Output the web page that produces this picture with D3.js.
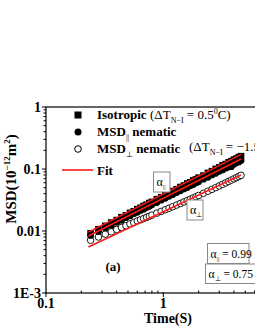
<!DOCTYPE html>
<html lang="en">
<head>
<meta charset="UTF-8">
<title>MSD</title>
<style>
  body { margin: 0; overflow: hidden; background: #fff; }
  svg { display: block; }
  text { font-family: "Liberation Serif", "Times New Roman", serif; }
</style>
</head>
<body>
<svg width="255" height="330"></svg>
<script src="https://d3js.org/d3.v7.min.js"></script>
<script>
// lag times (s)
var times = [0.24,0.28,0.32,0.36,0.40,0.44,0.48,0.52,0.56,0.60,0.64,0.68,0.72,0.76,0.80,0.88,0.96,1.04,1.12,1.2,1.3,1.4,1.5,1.6,1.7,1.8,1.9,2.0,2.2,2.4,2.6,2.8,3.0,3.2,3.4,3.6,3.8,4.0,4.2,4.4,4.6];
// isotropic MSD (10^-12 m^2)
var msdIso = [0.0092,0.0107,0.0121,0.0137,0.0150,0.0167,0.0179,0.0196,0.0208,0.0225,0.0237,0.0254,0.0266,0.0283,0.0295,0.0326,0.0351,0.0384,0.0408,0.0441,0.0472,0.0512,0.0541,0.0583,0.0611,0.0654,0.0680,0.0725,0.0785,0.0865,0.0922,0.1004,0.1060,0.1142,0.1198,0.1281,0.1335,0.1418,0.1470,0.1552,0.1610];
// nematic, parallel
var msdPar = [0.0085,0.0098,0.0112,0.0123,0.0138,0.0149,0.0164,0.0175,0.0190,0.0200,0.0215,0.0225,0.0240,0.0250,0.0265,0.0287,0.0314,0.0336,0.0363,0.0385,0.0418,0.0444,0.0478,0.0503,0.0538,0.0562,0.0598,0.0620,0.0686,0.0736,0.0803,0.0851,0.0918,0.0965,0.1033,0.1078,0.1090,0.1190,0.1260,0.1300,0.1370];
// nematic, perpendicular
var msdPerp = [0.0071,0.0080,0.0089,0.0097,0.0106,0.0114,0.0122,0.0130,0.0137,0.0145,0.0152,0.0159,0.0166,0.0173,0.0180,0.0194,0.0207,0.0220,0.0233,0.0246,0.0262,0.0278,0.0294,0.0310,0.0326,0.0342,0.0358,0.0374,0.0406,0.0438,0.0470,0.0502,0.0534,0.0566,0.0598,0.0630,0.0662,0.0694,0.0726,0.0758,0.0790];
// fit lines (endpoints)
var fitT = [0.23, 4.6];
var fitIso = [0.0096, 0.172];
var fitPar = [0.0083, 0.145];
var fitPerp = [0.0055, 0.080];

var yTicks = [1, 0.1, 0.01, 0.001];
var yTickLabels = ["1", "0.1", "0.01", "1E-3"];
var xTicks = [0.1, 1, 10];
var xTickLabels = ["0.1", "1"];

var svg = d3.select("svg");
var x = d3.scaleLog().domain([0.1, 10]).range([46, 280.6]);
var y = d3.scaleLog().domain([0.001, 1]).range([293, 107]);

// frame
svg.append("rect")
    .attr("x", x(0.1)).attr("y", y(1))
    .attr("width", x(10) - x(0.1)).attr("height", y(0.001) - y(1))
    .attr("fill", "none").attr("stroke", "#000").attr("stroke-width", 1.2);

// y ticks
var yMinor = [];
[0.001, 0.01, 0.1].forEach(function(d){
    for (var k = 2; k <= 9; k++) yMinor.push(d * k);
});
svg.append("g").selectAll("line").data(yMinor).enter().append("line")
    .attr("x1", x(0.1) - 2.5).attr("x2", x(0.1))
    .attr("y1", function(d){ return y(d); }).attr("y2", function(d){ return y(d); })
    .attr("stroke", "#000");
svg.append("g").selectAll("line").data(yTicks).enter().append("line")
    .attr("x1", x(0.1) - 4).attr("x2", x(0.1))
    .attr("y1", function(d){ return y(d); }).attr("y2", function(d){ return y(d); })
    .attr("stroke", "#000");
svg.append("g").selectAll("text").data(yTicks).enter().append("text")
    .attr("x", x(0.1) - 5)
    .attr("y", function(d){ return y(d) + 4.5; })
    .attr("text-anchor", "end")
    .attr("font-size", 14).attr("font-weight", "bold")
    .text(function(d, i){ return yTickLabels[i]; });

// x ticks
var xMinor = [];
[0.1, 1].forEach(function(d){
    for (var k = 2; k <= 9; k++) xMinor.push(d * k);
});
svg.append("g").selectAll("line").data(xMinor).enter().append("line")
    .attr("x1", function(d){ return x(d); }).attr("x2", function(d){ return x(d); })
    .attr("y1", y(0.001) - 2.5).attr("y2", y(0.001))
    .attr("stroke", "#000");
svg.append("g").selectAll("line").data(xTicks).enter().append("line")
    .attr("x1", function(d){ return x(d); }).attr("x2", function(d){ return x(d); })
    .attr("y1", y(0.001) - 1).attr("y2", y(0.001) + 4)
    .attr("stroke", "#000");
svg.append("g").selectAll("text").data(xTickLabels).enter().append("text")
    .attr("x", function(d, i){ return x(xTicks[i]); })
    .attr("y", y(0.001) + 15)
    .attr("text-anchor", "middle")
    .attr("font-size", 14).attr("font-weight", "bold")
    .text(function(d){ return d; });

// axis titles
svg.append("text")
    .attr("x", 168).attr("y", 323)
    .attr("text-anchor", "middle")
    .attr("font-size", 14).attr("font-weight", "bold")
    .text("Time(S)");

var yl = svg.append("text")
    .attr("transform", "translate(16,179) rotate(-90)")
    .attr("text-anchor", "middle")
    .attr("font-size", 15).attr("font-weight", "bold");
yl.append("tspan").text("MSD(10");
yl.append("tspan").attr("dy", -6).attr("font-size", 9).text("\u221212");
yl.append("tspan").attr("dy", 6).text("m");
yl.append("tspan").attr("dy", -6).attr("font-size", 9).text("2");
yl.append("tspan").attr("dy", 6).text(")");

// data
var rows = times.map(function(t, i){
    return { t: t, iso: msdIso[i], par: msdPar[i], perp: msdPerp[i] };
});

svg.append("g").selectAll("circle").data(rows).enter().append("circle")
    .attr("cx", function(d){ return x(d.t); })
    .attr("cy", function(d){ return y(d.perp); })
    .attr("r", 3.3)
    .attr("fill", "#fff").attr("stroke", "#000").attr("stroke-width", 0.9);

svg.append("g").selectAll("circle").data(rows).enter().append("circle")
    .attr("cx", function(d){ return x(d.t); })
    .attr("cy", function(d){ return y(d.par); })
    .attr("r", 3.4)
    .attr("fill", "#000");

svg.append("g").selectAll("rect").data(rows).enter().append("rect")
    .attr("x", function(d){ return x(d.t) - 3.3; })
    .attr("y", function(d){ return y(d.iso) - 3.3; })
    .attr("width", 6.6).attr("height", 6.6)
    .attr("fill", "#000");

// fits
var line = d3.line()
    .x(function(d){ return x(d[0]); })
    .y(function(d){ return y(d[1]); });
[fitIso, fitPar, fitPerp].forEach(function(f){
    svg.append("path")
        .datum(fitT.map(function(t, i){ return [t, f[i]]; }))
        .attr("d", line)
        .attr("fill", "none").attr("stroke", "#ff1a1a").attr("stroke-width", 1.6);
});

// legend
var lg = svg.append("g");
lg.append("rect").attr("x", 74.5).attr("y", 111.5).attr("width", 7).attr("height", 7).attr("fill", "#000");
lg.append("circle").attr("cx", 78).attr("cy", 132).attr("r", 3.5).attr("fill", "#000");
lg.append("circle").attr("cx", 78).attr("cy", 149).attr("r", 3.3).attr("fill", "#fff").attr("stroke", "#000");
lg.append("line").attr("x1", 62).attr("x2", 93).attr("y1", 170).attr("y2", 170)
    .attr("stroke", "#ff1a1a").attr("stroke-width", 1.6);

function legendText(xp, yp){
    return lg.append("text").attr("x", xp).attr("y", yp)
        .attr("font-size", 13).attr("font-weight", "bold");
}
legendText(97, 119).text("Isotropic");
var t2 = legendText(97, 136);
t2.append("tspan").text("MSD");
t2.append("tspan").attr("dy", 4).attr("font-size", 8).attr("font-weight", "normal").text("||");
t2.append("tspan").attr("dy", -4).text(" nematic");
var t3 = legendText(97, 153);
t3.append("tspan").text("MSD");
t3.append("tspan").attr("dy", 4).attr("font-size", 8).attr("font-weight", "normal").text("\u22a5");
t3.append("tspan").attr("dy", -4).text(" nematic");
legendText(97, 175).text("Fit");

function deltaT(xp, yp, val){
    var t = lg.append("text").attr("x", xp).attr("y", yp).attr("font-size", 13);
    t.append("tspan").text("(\u0394T");
    t.append("tspan").attr("dy", 4).attr("font-size", 8).text("N\u2212I");
    t.append("tspan").attr("dy", -4).text(" = " + val);
    return t;
}
var d1 = deltaT(150, 119, "0.5");
d1.append("tspan").attr("dy", -5).attr("font-size", 8).text("0");
d1.append("tspan").attr("dy", 5).text("C)");
deltaT(189, 151, "\u22121.5\u00b0C)");

// annotation boxes
function alphaBox(bx, by, bw, bh, sub, val, fs){
    var g = svg.append("g");
    g.append("rect").attr("x", bx).attr("y", by).attr("width", bw).attr("height", bh)
        .attr("fill", "#fff").attr("stroke", "#888").attr("stroke-width", 1);
    var t = g.append("text").attr("x", bx + 3).attr("y", by + bh - 6).attr("font-size", fs || 12);
    t.append("tspan").text("\u03b1");
    t.append("tspan").attr("dy", 3).attr("font-size", 7).text(sub);
    if (val) t.append("tspan").attr("dy", -3).text(" = " + val);
}
alphaBox(153.5, 172, 16.5, 20, "||");
alphaBox(187, 200, 16, 20, "\u22a5");
alphaBox(207.5, 243.5, 41.5, 20, "||", "0.99", 11.5);
alphaBox(205.5, 264, 52, 19.5, "\u22a5", "0.75", 11.5);

// panel label
svg.append("text").attr("x", 113).attr("y", 271)
    .attr("text-anchor", "middle")
    .attr("font-size", 13).attr("font-weight", "bold")
    .text("(a)");
</script>
</body>
</html>
